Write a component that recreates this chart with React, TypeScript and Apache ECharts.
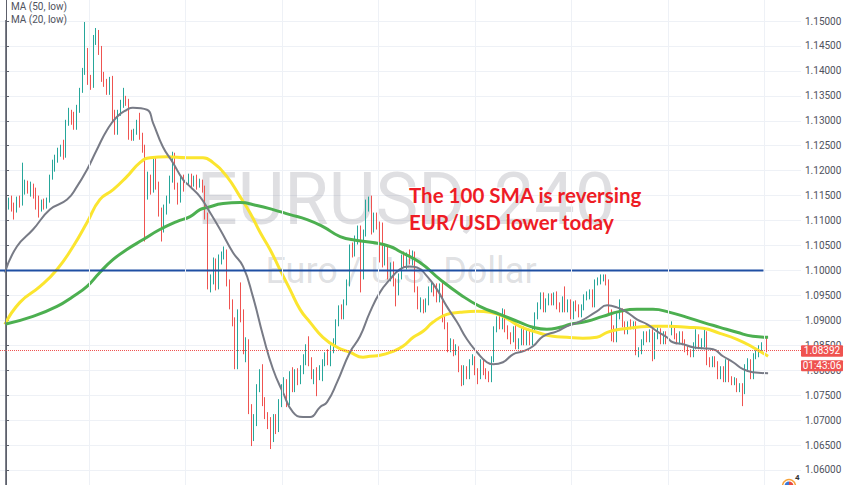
import React, { useEffect, useRef } from "react";
import * as echarts from "echarts";

// EUR/USD 4H candles: [open, close, low, high]
const candles: number[][] = [
[1.1146,1.1134,1.1126,1.1154],[1.1134,1.1142,1.1122,1.1146],[1.1142,1.1128,1.1118,1.1150],[1.1128,1.1122,1.1102,1.1136],
[1.1122,1.1142,1.1116,1.1148],[1.1142,1.1134,1.1126,1.1150],[1.1134,1.1158,1.1130,1.1216],[1.1158,1.1172,1.1152,1.1182],
[1.1172,1.1162,1.1154,1.1180],[1.1162,1.1168,1.1148,1.1178],[1.1168,1.1152,1.1144,1.1174],[1.1152,1.1142,1.1122,1.1166],
[1.1142,1.1128,1.1106,1.1150],[1.1128,1.1136,1.1118,1.1142],[1.1136,1.1130,1.1122,1.1144],[1.1130,1.1142,1.1124,1.1146],
[1.1142,1.1188,1.1136,1.1192],[1.1188,1.1206,1.1182,1.1222],[1.1206,1.1222,1.1198,1.1232],[1.1222,1.1238,1.1216,1.1246],
[1.1238,1.1242,1.1228,1.1252],[1.1242,1.1232,1.1222,1.1262],[1.1232,1.1296,1.1226,1.1302],[1.1296,1.1312,1.1290,1.1326],
[1.1312,1.1302,1.1292,1.1322],[1.1302,1.1286,1.1282,1.1318],[1.1286,1.1322,1.1282,1.1332],[1.1322,1.1362,1.1316,1.1366],
[1.1362,1.1402,1.1356,1.1406],[1.1402,1.1438,1.1392,1.1498],[1.1438,1.1382,1.1372,1.1446],[1.1382,1.1372,1.1362,1.1392],
[1.1372,1.1462,1.1366,1.1472],[1.1462,1.1476,1.1452,1.1486],[1.1476,1.1442,1.1432,1.1482],[1.1442,1.1386,1.1378,1.1450],
[1.1386,1.1376,1.1368,1.1398],[1.1376,1.1358,1.1352,1.1384],[1.1358,1.1382,1.1352,1.1388],[1.1382,1.1306,1.1298,1.1390],
[1.1306,1.1278,1.1272,1.1322],[1.1278,1.1316,1.1272,1.1322],[1.1316,1.1336,1.1310,1.1342],[1.1336,1.1342,1.1326,1.1366],
[1.1342,1.1338,1.1330,1.1350],[1.1338,1.1268,1.1262,1.1344],[1.1272,1.1266,1.1260,1.1282],[1.1266,1.1278,1.1260,1.1284],
[1.1278,1.1296,1.1272,1.1302],[1.1296,1.1268,1.1262,1.1316],[1.1268,1.1242,1.1236,1.1276],[1.1242,1.1148,1.1058,1.1252],
[1.1148,1.1186,1.1142,1.1198],[1.1186,1.1162,1.1152,1.1192],[1.1162,1.1222,1.1156,1.1228],[1.1222,1.1168,1.1162,1.1226],
[1.1168,1.1116,1.1108,1.1178],[1.1116,1.1082,1.1058,1.1126],[1.1082,1.1122,1.1076,1.1132],[1.1122,1.1142,1.1112,1.1150],
[1.1142,1.1182,1.1134,1.1190],[1.1182,1.1228,1.1176,1.1238],[1.1228,1.1168,1.1162,1.1236],[1.1168,1.1142,1.1132,1.1176],
[1.1142,1.1182,1.1136,1.1190],[1.1182,1.1168,1.1158,1.1192],[1.1168,1.1178,1.1162,1.1186],[1.1178,1.1186,1.1170,1.1194],
[1.1186,1.1174,1.1166,1.1194],[1.1174,1.1184,1.1168,1.1190],[1.1184,1.1172,1.1162,1.1192],[1.1172,1.1176,1.1166,1.1184],
[1.1176,1.1162,1.1156,1.1182],[1.1162,1.1108,1.1102,1.1170],[1.1108,1.0968,1.0962,1.1116],[1.0968,1.0978,1.0956,1.0992],
[1.0978,1.1016,1.0972,1.1026],[1.1016,1.0966,1.0960,1.1024],[1.0966,1.1022,1.0962,1.1032],[1.1022,1.1028,1.1012,1.1038],
[1.1028,1.1036,1.1022,1.1048],[1.1036,1.0976,1.0968,1.1042],[1.0976,1.0928,1.0922,1.0982],[1.0928,1.0896,1.0888,1.0942],
[1.0896,1.0808,1.0802,1.0906],[1.0808,1.0916,1.0802,1.0922],[1.0916,1.0906,1.0896,1.0976],[1.0906,1.0842,1.0832,1.0922],
[1.0842,1.0856,1.0816,1.0866],[1.0856,1.0722,1.0712,1.0862],[1.0722,1.0662,1.0648,1.0732],[1.0662,1.0696,1.0658,1.0712],
[1.0696,1.0762,1.0688,1.0772],[1.0762,1.0788,1.0756,1.0802],[1.0788,1.0736,1.0728,1.0812],[1.0736,1.0708,1.0702,1.0746],
[1.0708,1.0696,1.0682,1.0716],[1.0696,1.0662,1.0642,1.0706],[1.0662,1.0702,1.0656,1.0712],[1.0702,1.0682,1.0672,1.0712],
[1.0682,1.0736,1.0676,1.0742],[1.0736,1.0762,1.0726,1.0772],[1.0762,1.0776,1.0752,1.0786],[1.0776,1.0736,1.0726,1.0782],
[1.0736,1.0788,1.0730,1.0798],[1.0788,1.0762,1.0756,1.0806],[1.0762,1.0796,1.0756,1.0802],[1.0796,1.0778,1.0770,1.0804],
[1.0778,1.0802,1.0772,1.0810],[1.0802,1.0816,1.0792,1.0832],[1.0816,1.0828,1.0810,1.0852],[1.0828,1.0816,1.0808,1.0868],
[1.0816,1.0788,1.0782,1.0826],[1.0788,1.0798,1.0772,1.0802],[1.0798,1.0786,1.0748,1.0806],[1.0786,1.0802,1.0780,1.0810],
[1.0802,1.0816,1.0778,1.0822],[1.0816,1.0828,1.0808,1.0836],[1.0828,1.0816,1.0810,1.0842],[1.0816,1.0842,1.0808,1.0850],
[1.0842,1.0856,1.0834,1.0864],[1.0856,1.0896,1.0848,1.0902],[1.0896,1.0922,1.0888,1.0930],[1.0922,1.0908,1.0902,1.0932],
[1.0908,1.0936,1.0902,1.0942],[1.0936,1.0976,1.0930,1.0982],[1.0976,1.1042,1.0968,1.1052],[1.1042,1.1036,1.1026,1.1056],
[1.1036,1.1062,1.1028,1.1070],[1.1062,1.1082,1.1052,1.1090],[1.1082,1.0988,1.0956,1.1090],[1.0988,1.1076,1.0982,1.1082],
[1.1076,1.1128,1.1068,1.1142],[1.1128,1.1142,1.1118,1.1148],[1.1142,1.1082,1.1072,1.1150],[1.1082,1.1108,1.1076,1.1116],
[1.1108,1.1088,1.1082,1.1116],[1.1088,1.1022,1.1016,1.1098],[1.1022,1.1016,1.1006,1.1096],[1.1016,1.1042,1.1010,1.1052],
[1.1042,1.0988,1.0982,1.1048],[1.0988,1.1008,1.0978,1.1016],[1.1008,1.0976,1.0968,1.1018],[1.0976,1.0956,1.0928,1.0984],
[1.0956,1.0988,1.0950,1.0994],[1.0988,1.1022,1.0982,1.1032],[1.1022,1.1012,1.1006,1.1038],[1.1012,1.1028,1.1002,1.1036],
[1.1028,1.1018,1.1012,1.1042],[1.1018,1.1032,1.1010,1.1040],[1.1032,1.0962,1.0956,1.1038],[1.0962,1.0928,1.0922,1.0968],
[1.0928,1.0936,1.0916,1.0946],[1.0936,1.0922,1.0914,1.0942],[1.0922,1.0938,1.0916,1.0944],[1.0938,1.0962,1.0930,1.0968],
[1.0962,1.0968,1.0956,1.0976],[1.0968,1.0954,1.0948,1.0974],[1.0954,1.0942,1.0936,1.0974],[1.0942,1.0968,1.0936,1.0974],
[1.0968,1.0902,1.0896,1.0976],[1.0902,1.0888,1.0882,1.0910],[1.0888,1.0842,1.0836,1.0896],[1.0842,1.0856,1.0836,1.0864],
[1.0856,1.0836,1.0828,1.0862],[1.0836,1.0842,1.0830,1.0852],[1.0842,1.0802,1.0796,1.0848],[1.0802,1.0776,1.0768,1.0810],
[1.0776,1.0802,1.0770,1.0810],[1.0802,1.0788,1.0782,1.0808],[1.0788,1.0816,1.0782,1.0822],[1.0816,1.0822,1.0810,1.0832],
[1.0822,1.0796,1.0790,1.0828],[1.0796,1.0788,1.0772,1.0804],[1.0788,1.0816,1.0782,1.0822],[1.0816,1.0796,1.0790,1.0822],
[1.0796,1.0788,1.0782,1.0804],[1.0788,1.0782,1.0776,1.0798],[1.0782,1.0822,1.0776,1.0828],[1.0822,1.0882,1.0816,1.0888],
[1.0882,1.0902,1.0876,1.0908],[1.0902,1.0888,1.0882,1.0912],[1.0888,1.0916,1.0882,1.0924],[1.0916,1.0882,1.0876,1.0922],
[1.0882,1.0868,1.0862,1.0890],[1.0868,1.0862,1.0852,1.0876],[1.0862,1.0882,1.0856,1.0888],[1.0882,1.0848,1.0842,1.0890],
[1.0848,1.0856,1.0842,1.0864],[1.0856,1.0882,1.0850,1.0888],[1.0882,1.0856,1.0850,1.0888],[1.0856,1.0876,1.0850,1.0882],
[1.0876,1.0856,1.0850,1.0882],[1.0856,1.0882,1.0850,1.0888],[1.0882,1.0908,1.0876,1.0916],[1.0908,1.0928,1.0902,1.0936],
[1.0928,1.0948,1.0922,1.0956],[1.0948,1.0922,1.0916,1.0956],[1.0922,1.0936,1.0916,1.0944],[1.0936,1.0946,1.0930,1.0954],
[1.0946,1.0936,1.0930,1.0954],[1.0936,1.0948,1.0930,1.0956],[1.0948,1.0928,1.0922,1.0958],[1.0928,1.0922,1.0916,1.0936],
[1.0922,1.0942,1.0916,1.0948],[1.0942,1.0922,1.0916,1.0968],[1.0922,1.0936,1.0916,1.0942],[1.0936,1.0908,1.0902,1.0942],
[1.0908,1.0932,1.0902,1.0938],[1.0932,1.0926,1.0918,1.0940],[1.0926,1.0912,1.0906,1.0932],[1.0912,1.0926,1.0906,1.0932],
[1.0926,1.0946,1.0920,1.0952],[1.0946,1.0948,1.0940,1.0958],[1.0948,1.0956,1.0942,1.0962],[1.0956,1.0932,1.0926,1.0962],
[1.0932,1.0976,1.0926,1.0982],[1.0976,1.0978,1.0970,1.0986],[1.0978,1.0982,1.0972,1.0992],[1.0982,1.0986,1.0978,1.0992],
[1.0986,1.0976,1.0970,1.0992],[1.0976,1.0916,1.0910,1.0982],[1.0916,1.0882,1.0858,1.0922],[1.0882,1.0862,1.0856,1.0890],
[1.0862,1.0908,1.0856,1.0914],[1.0908,1.0918,1.0902,1.0942],[1.0918,1.0892,1.0886,1.0924],[1.0892,1.0878,1.0872,1.0898],
[1.0878,1.0892,1.0872,1.0898],[1.0892,1.0888,1.0882,1.0902],[1.0888,1.0892,1.0882,1.0898],[1.0892,1.0836,1.0830,1.0898],
[1.0836,1.0838,1.0826,1.0846],[1.0838,1.0856,1.0832,1.0862],[1.0856,1.0872,1.0850,1.0878],[1.0872,1.0862,1.0856,1.0878],
[1.0862,1.0876,1.0856,1.0882],[1.0876,1.0828,1.0818,1.0882],[1.0828,1.0868,1.0822,1.0876],[1.0868,1.0878,1.0862,1.0886],
[1.0878,1.0858,1.0852,1.0884],[1.0858,1.0872,1.0852,1.0878],[1.0872,1.0858,1.0852,1.0878],[1.0858,1.0876,1.0852,1.0884],
[1.0876,1.0882,1.0870,1.0898],[1.0882,1.0868,1.0862,1.0888],[1.0868,1.0858,1.0852,1.0874],[1.0858,1.0872,1.0852,1.0878],
[1.0872,1.0856,1.0850,1.0878],[1.0856,1.0842,1.0836,1.0862],[1.0842,1.0836,1.0830,1.0848],[1.0836,1.0832,1.0826,1.0842],
[1.0832,1.0848,1.0826,1.0856],[1.0848,1.0862,1.0842,1.0882],[1.0862,1.0848,1.0842,1.0872],[1.0848,1.0858,1.0842,1.0864],
[1.0858,1.0872,1.0846,1.0882],[1.0872,1.0816,1.0810,1.0878],[1.0816,1.0812,1.0806,1.0826],[1.0812,1.0822,1.0806,1.0828],
[1.0822,1.0812,1.0806,1.0828],[1.0812,1.0788,1.0782,1.0818],[1.0788,1.0802,1.0782,1.0808],[1.0802,1.0782,1.0776,1.0808],
[1.0782,1.0816,1.0776,1.0822],[1.0816,1.0782,1.0776,1.0822],[1.0782,1.0776,1.0770,1.0788],[1.0776,1.0778,1.0770,1.0786],
[1.0778,1.0762,1.0756,1.0784],[1.0762,1.0768,1.0756,1.0774],[1.0768,1.0758,1.0728,1.0774],[1.0758,1.0806,1.0752,1.0812],
[1.0806,1.0816,1.0800,1.0824],[1.0816,1.0788,1.0782,1.0822],[1.0788,1.0828,1.0782,1.0834],[1.0828,1.0832,1.0822,1.0840],
[1.0832,1.0842,1.0826,1.0850],[1.0842,1.0848,1.0836,1.0856],[1.0848,1.0852,1.0842,1.0862],[1.0852,1.08392,1.0836,1.0866],
];

// moving averages: [bar index, value]
const ma20: number[][] = [
[-0.4,1.0996],[4,1.1048],[9.9,1.1082],[16.1,1.1122],[22.4,1.1142],[26,1.1168],[29.7,1.1202],[33.3,1.1242],[37.1,1.1282],
[40.7,1.1308],[44.3,1.1322],[46.5,1.1326],[51.7,1.1322],[53.9,1.1296],[57.5,1.1248],[61.2,1.1216],[64.9,1.1182],[67.5,1.1168],
[71.1,1.1148],[74.8,1.1116],[78.5,1.1082],[83.2,1.1036],[86.9,1.1008],[90.5,1.0948],[94.3,1.0868],[97.9,1.0802],[101.5,1.0756],
[105.2,1.0716],[108.9,1.0706],[111.5,1.0706],[115.1,1.0726],[117.7,1.0736],[121.4,1.0776],[126.1,1.0836],[129.8,1.0868],
[133.4,1.0916],[137.1,1.0956],[140.8,1.0982],[144.4,1.1002],[148,1.1008],[150.7,1.1006],[154.4,1.0988],[158,1.0962],
[161.6,1.0928],[165.4,1.0896],[169,1.0862],[172.7,1.0836],[176.3,1.0816],[178.6,1.0812],[182.2,1.0816],[185.9,1.0832],
[189.5,1.0838],[193.2,1.0848],[196.9,1.0868],[202,1.0878],[205.6,1.0888],[210.5,1.0898],[216.6,1.0918],[220.4,1.093],
[224,1.0926],[227.7,1.0916],[231.3,1.0902],[235.1,1.0892],[238.7,1.0878],[242.3,1.0866],[244.5,1.0856],[248.3,1.0852],
[251.9,1.0846],[255.5,1.0844],[259.2,1.0842],[262.9,1.0828],[266.6,1.0816],[270.2,1.0802],[273.8,1.0796],[279.4,1.0794],
];
const ma50: number[][] = [
[-0.4,1.0892],[5.1,1.0936],[12.5,1.0968],[18.7,1.1002],[24.6,1.1048],[29.7,1.1096],[34.4,1.1142],[39.3,1.1162],[44.3,1.1188],
[49.1,1.1216],[52.8,1.1226],[59,1.1228],[66.4,1.1226],[72.2,1.1226],[75.9,1.1216],[81,1.1188],[85.8,1.1148],[89.4,1.1116],
[93.2,1.1076],[96.8,1.1042],[100.4,1.1002],[104.1,1.0962],[107.8,1.0922],[111.5,1.0896],[116.2,1.0866],[121.4,1.0846],
[126.1,1.0836],[130.9,1.0826],[133.4,1.0828],[137.1,1.083],[141.9,1.0838],[145.5,1.0848],[149.3,1.0866],[152.9,1.0878],
[156.5,1.0896],[161.6,1.0912],[166.5,1.0916],[172.7,1.0918],[177.5,1.0916],[182.2,1.0908],[188.4,1.0888],[194.7,1.0876],
[200.5,1.0868],[205.6,1.0866],[211.5,1.0864],[216.6,1.0866],[220.4,1.0876],[225.1,1.0882],[231.3,1.0886],[237.2,1.0888],
[243.4,1.0888],[249.7,1.0886],[255.5,1.0884],[261.7,1.0874],[268,1.0862],[273.8,1.0846],[279.4,1.0828],
];
const ma100: number[][] = [
[-0.4,1.0892],[9.9,1.0908],[18.7,1.0928],[24.6,1.0948],[29.7,1.0968],[34.4,1.0996],[39.3,1.1022],[44.3,1.1042],[50.3,1.1062],
[56.4,1.1082],[62.6,1.1098],[67.5,1.1108],[71.1,1.1122],[73.7,1.1126],[79.6,1.1134],[85.8,1.1136],[92,1.113],[97.9,1.1122],
[104.1,1.1112],[110.4,1.1102],[116.2,1.1088],[122.5,1.1068],[128.7,1.106],[134.5,1.1056],[140.8,1.1048],[144.4,1.1038],
[151.8,1.1016],[159.1,1.0982],[166.5,1.0952],[173.7,1.0928],[181.1,1.0912],[188.4,1.0896],[193.2,1.0886],[198.3,1.0882],
[203.1,1.0886],[206.8,1.0892],[213,1.0898],[218.8,1.0908],[225.1,1.0918],[231.3,1.0922],[237.2,1.0922],[243.4,1.0916],
[249.7,1.0906],[255.5,1.0896],[261.7,1.0886],[268,1.0876],[273.8,1.0868],[279.4,1.0866],
];

const levelPrice = 1.1;
const levelSpan = [-2.2, 277.7];
const timeGridIdx = [30.4, 65.8, 101.2, 136.6, 172.0, 207.3, 242.7, 278.1];
const yMin = 1.055;
const yMax = 1.155;
const yStep = 0.005;
const lastPrice = 1.08392;
const countdown = "01:43:06";
const legendLines = ["MA (50, low)", "MA (20, low)"];
const noteLines = ["The 100 SMA is reversing", "EUR/USD lower today"];
const watermark = ["EURUSD, 240", "Euro / U.S. Dollar"];
const flagCount = "4";

const UP = "#26a69a";
const DOWN = "#ef5350";
const OY = 4; // inner canvas is shifted up by this many pixels

export default function App() {
  const ref = useRef<HTMLDivElement>(null);
  useEffect(() => {
    document.body.style.margin = "0";
    const chart = echarts.init(ref.current!, undefined, { renderer: "svg" });
    const option: any = {
      animation: false,
      backgroundColor: "#ffffff",
      grid: { left: 0, top: 0.06, width: 801, height: 498.88, containLabel: false },
      xAxis: {
        type: "value", min: -2.2, max: 291.47,
        axisLine: { show: false }, axisTick: { show: false }, axisLabel: { show: false }, splitLine: { show: false },
      },
      yAxis: {
        type: "value", position: "right", min: yMin, max: yMax, interval: yStep,
        axisLine: { show: true, lineStyle: { color: "#5d606b", width: 1 } },
        axisTick: { show: true, length: 3, lineStyle: { color: "#5d606b" } },
        axisLabel: {
          color: "#4f525d", fontSize: 10, fontFamily: "Roboto", margin: 4,
          showMinLabel: false, showMaxLabel: false,
          formatter: (v: number) => v.toFixed(5),
        },
        splitLine: { show: true, lineStyle: { color: "#eef1f6", width: 1 } },
      },
      series: [
        {
          type: "line", z: 0, data: [[levelSpan[0], levelPrice]], symbol: "none", lineStyle: { width: 0 },
          markLine: {
            silent: true, symbol: ["none", "none"], label: { show: false }, precision: 3,
            lineStyle: { color: "#eef1f6", width: 1, type: "solid" },
            data: timeGridIdx.map((v) => ({ xAxis: v })),
          },
        },
        {
          type: "candlestick", z: 2,
          data: candles.map((c, i) => [i, c[0], c[1], c[2], c[3]]),
          encode: { x: 0, y: [1, 2, 3, 4] },
          barWidth: 1.3,
          itemStyle: { color: UP, color0: DOWN, borderColor: UP, borderColor0: DOWN, borderWidth: 1 },
        },
        {
          type: "line", z: 2, data: [[levelSpan[0], lastPrice]], symbol: "none", lineStyle: { width: 0 },
          markLine: {
            silent: true, symbol: ["none", "none"], label: { show: false }, precision: 5,
            lineStyle: { color: DOWN, width: 1, type: "dotted" },
            data: [{ yAxis: lastPrice }],
          },
        },
        { type: "line", z: 3, data: ma50, smooth: true, symbol: "none", lineStyle: { color: "#fbe52f", width: 3 } },
        { type: "line", z: 3, data: ma100, smooth: true, symbol: "none", lineStyle: { color: "#4caf50", width: 3 } },
        { type: "line", z: 3, data: ma20, smooth: true, symbol: "none", lineStyle: { color: "#787b86", width: 2 } },
        {
          type: "line", z: 4, data: levelSpan.map((x) => [x, levelPrice]), symbol: "none",
          lineStyle: { color: "#1f4fa3", width: 2 },
        },
      ],
    };
    chart.setOption(option);
    const py = chart.convertToPixel({ yAxisIndex: 0 }, lastPrice) as number;
    const graphic: any[] = [
      {
        type: "text", id: "wm1", z: 1, silent: true,
        style: { x: 406, y: 199 + OY, text: watermark[0], textAlign: "center", textVerticalAlign: "middle",
          fill: "rgba(120,123,134,0.24)", font: "72px Roboto" },
      },
      {
        type: "text", id: "wm2", z: 1, silent: true,
        style: { x: 401, y: 271 + OY, text: watermark[1], textAlign: "center", textVerticalAlign: "middle",
          fill: "rgba(120,123,134,0.24)", font: "36px Roboto" },
      },
      {
        type: "text", id: "note1", z: 10,
        style: { x: 409, y: 195 + OY, text: noteLines[0], textVerticalAlign: "middle", fill: "#ee1c25", font: "bold 20.5px Lato" },
      },
      {
        type: "text", id: "note2", z: 10,
        style: { x: 409, y: 221.5 + OY, text: noteLines[1], textVerticalAlign: "middle", fill: "#ee1c25", font: "bold 20.5px Lato" },
      },
      {
        type: "text", id: "leg1", z: 10,
        style: { x: 11, y: 6 + OY, text: legendLines[0], textVerticalAlign: "middle", fill: "#50535e", font: "10px Roboto" },
      },
      {
        type: "text", id: "leg2", z: 10,
        style: { x: 11, y: 19 + OY, text: legendLines[1], textVerticalAlign: "middle", fill: "#50535e", font: "10px Roboto" },
      },
      {
        type: "line", id: "leftEdge", z: 10, silent: true,
        shape: { x1: 5.5, y1: 20 + OY, x2: 5.5, y2: 485 + OY }, style: { stroke: "#7d808a", lineWidth: 1 },
      },
      {
        type: "rect", id: "pbox", z: 20, shape: { x: 801, y: py - 5.5, width: 42, height: 11.5, r: 1 },
        style: { fill: DOWN },
      },
      {
        type: "text", id: "ptext", z: 21,
        style: { x: 822, y: py + 0.3, text: lastPrice.toFixed(5), textAlign: "center", textVerticalAlign: "middle",
          fill: "#ffffff", font: "10px Roboto" },
      },
      {
        type: "rect", id: "tbox", z: 20, shape: { x: 801, y: py + 9.5, width: 42, height: 11, r: 1 },
        style: { fill: DOWN },
      },
      {
        type: "text", id: "ttext", z: 21,
        style: { x: 822, y: py + 15.2, text: countdown, textAlign: "center", textVerticalAlign: "middle",
          fill: "#ffffff", font: "10px Roboto" },
      },
      {
        type: "circle", id: "flagRing", z: 20, shape: { cx: 789, cy: 486 + OY, r: 6.5 },
        style: { fill: "#ffffff", stroke: "#f7a33a", lineWidth: 1.5 },
      },
      {
        type: "sector", id: "flagBlue", z: 21,
        shape: { cx: 789, cy: 486 + OY, r: 4.5, startAngle: Math.PI, endAngle: Math.PI * 1.5 },
        style: { fill: "#3a78d8" },
      },
      {
        type: "sector", id: "flagRed", z: 21,
        shape: { cx: 789, cy: 486 + OY, r: 4.5, startAngle: Math.PI * 1.5, endAngle: Math.PI * 2 },
        style: { fill: "#e8483f" },
      },
      {
        type: "text", id: "flagNum", z: 21,
        style: { x: 795, y: 477 + OY, text: flagCount, textVerticalAlign: "middle", fill: "#333333", font: "bold 8px Roboto" },
      },
    ];
    chart.setOption({ graphic });
    return () => chart.dispose();
  }, []);
  return (
    <div style={{ position: "absolute", left: 0, top: 0, width: 852, height: 485, overflow: "hidden" }}>
      <div ref={ref} style={{ position: "absolute", left: 0, top: -OY, width: 852, height: 500 }} />
    </div>
  );
}
